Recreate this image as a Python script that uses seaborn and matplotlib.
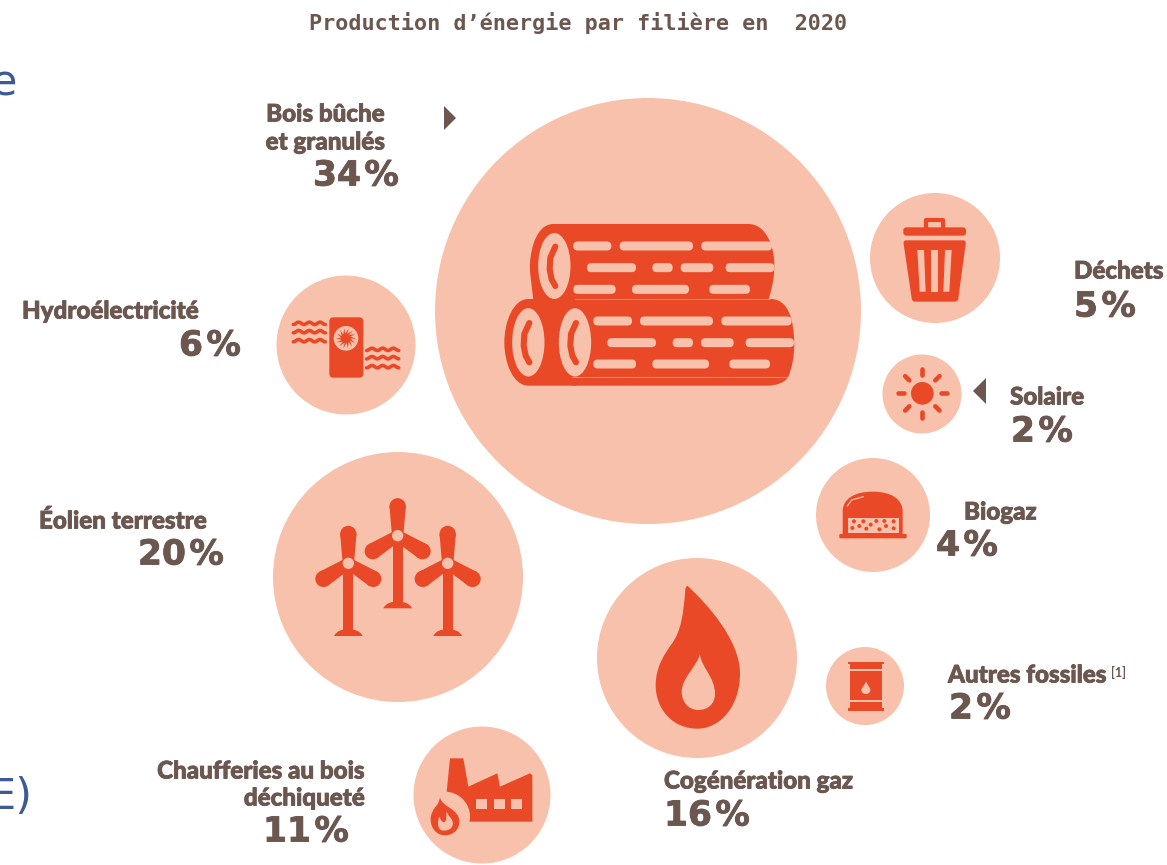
import numpy as np
import pandas as pd
import matplotlib
matplotlib.use("Agg")
import matplotlib.pyplot as plt
import matplotlib.patheffects as pe
import seaborn as sns
from matplotlib.path import Path
from matplotlib.patches import PathPatch, Circle, Ellipse, Polygon, FancyBboxPatch

# Share of production per energy source, 2020 (percent)
sources = ["Bois bûche et granulés", "Déchets", "Solaire", "Hydroélectricité", "Éolien terrestre",
           "Biogaz", "Autres fossiles", "Cogénération gaz", "Chaufferies au bois déchiqueté"]
shares = [34, 5, 2, 6, 20, 4, 2, 16, 11]

# Bubble layout on the 1167x865 canvas
bubble_x = [648, 935, 922, 346, 398, 873, 865, 697, 482]
bubble_y = [311, 258, 394, 345, 577, 515, 686, 658, 795]
bubble_d = [426, 130, 79, 139, 250, 114, 78, 200, 137]

TITLE = "Production d’énergie par filière en  2020"
BUBBLE = "#F7C1AB"
ICON = "#E94926"
TEXT = "#6B574F"
BLUE = "#3D5A94"
W, H, DPI = 1167, 865, 100

sns.set_theme(style="white")
plt.rcParams["font.family"] = ["Lato", "DejaVu Sans"]

fig = plt.figure(figsize=(W / DPI, H / DPI), dpi=DPI, facecolor="white")
ax = fig.add_axes([0, 0, 1, 1])

table = pd.DataFrame({"source": sources, "share": shares, "x": bubble_x, "y": bubble_y})
marker_areas = {n: (d * 72 / DPI) ** 2 for n, d in zip(sources, bubble_d)}
sns.scatterplot(data=table, x="x", y="y", size="source", sizes=marker_areas, color=BUBBLE,
                linewidth=0, legend=False, ax=ax, zorder=1)
ax.set_xlim(0, W)
ax.set_ylim(H, 0)
ax.axis("off")


class Icon:
    """Draws shapes from a local drawing grid three times finer than the canvas."""

    def __init__(self, ox, oy):
        self.ox, self.oy = ox, oy

    def pt(self, p):
        return (self.ox + p[0] / 3, self.oy + p[1] / 3)

    def curve(self, start, segments, color=ICON, z=3):
        verts, codes = [self.pt(start)], [Path.MOVETO]
        for seg in segments:
            if len(seg) == 1:
                verts.append(self.pt(seg[0]))
                codes.append(Path.LINETO)
            else:
                verts.extend(self.pt(s) for s in seg)
                codes.extend([Path.CURVE4] * 3)
        verts.append(verts[0])
        codes.append(Path.CLOSEPOLY)
        ax.add_patch(PathPatch(Path(verts, codes), fc=color, ec="none", zorder=z))

    def poly(self, pts, color=ICON, z=3):
        ax.add_patch(Polygon([self.pt(p) for p in pts], closed=True, fc=color, ec="none", zorder=z))

    def box(self, x0, y0, x1, y1, color=ICON, z=3, r=0):
        a, b = self.pt((x0, y0)), self.pt((x1, y1))
        ax.add_patch(FancyBboxPatch((a[0] + r, a[1] + r), b[0] - a[0] - 2 * r, b[1] - a[1] - 2 * r,
                                    boxstyle=f"round,pad={r},rounding_size={r}" if r else "square,pad=0",
                                    fc=color, ec="none", zorder=z))

    def circle(self, c, r, color=ICON, z=3):
        ax.add_patch(Circle(self.pt(c), r / 3, fc=color, ec="none", zorder=z))

    def ellipse(self, c, w, h, color=BUBBLE, z=4):
        ax.add_patch(Ellipse(self.pt(c), w / 3, h / 3, fc=color, ec="none", zorder=z))

    def line(self, pts, lw, color=ICON, z=3, cap="round"):
        xy = np.array([self.pt(p) for p in pts])
        ax.plot(xy[:, 0], xy[:, 1], color=color, lw=lw, solid_capstyle=cap, zorder=z,
                solid_joinstyle="round")


# Stacked logs
logs = Icon(490, 200)
logs.curve((190, 72), [[(775, 72)], [(810, 72), (830, 100), (842, 130)], [(860, 180), (855, 240), (835, 300)],
                       [(130, 300)], [(125, 250), (115, 210), (122, 170)], [(130, 110), (155, 72), (190, 72)]])
logs.curve((115, 297), [[(260, 297)], [(260, 557)], [(115, 557)], [(70, 557), (43, 490), (43, 427)],
                        [(43, 365), (70, 297), (115, 297)]])
logs.curve((255, 297), [[(845, 297)], [(880, 300), (895, 325), (905, 360)], [(918, 420), (915, 480), (895, 530)],
                        [(885, 548), (860, 557), (830, 557)], [(255, 557)], [(210, 557), (183, 490), (183, 427)],
                        [(183, 365), (210, 297), (255, 297)]], z=3.1)
logs.line([(255, 298), (840, 298)], 0.7, color="#F28D6B", z=3.2)
logs.line([(245, 532), (890, 532)], 0.7, color="#F28D6B", z=3.2)


def slot(x0, x1, y, h=27):
    logs.box(x0, y - h / 2, x1, y + h / 2, color=BUBBLE, z=3.6, r=h / 6 - 0.2)


for x0, x1 in [(250, 364), (389, 609), (634, 846)]:
    slot(x0, x1, 138)
for x0, x1 in [(291, 438), (487, 548), (572, 670), (707, 853)]:
    slot(x0, x1, 203)
for x0, x1 in [(250, 377), (426, 597), (658, 780)]:
    slot(x0, x1, 268)
for x0, x1 in [(310, 426), (450, 669), (694, 905)]:
    slot(x0, x1, 363)
for x0, x1 in [(352, 498), (548, 609), (633, 731), (767, 912)]:
    slot(x0, x1, 428)
for x0, x1 in [(310, 438), (487, 657), (718, 840)]:
    slot(x0, x1, 492)
# End faces of the three logs, each with its crescent-shaped crack
logs.ellipse((193, 198), 97, 198)
logs.ellipse((115, 427), 97, 205)
logs.ellipse((255, 427), 97, 205)
for cx, cy in [(193, 198), (115, 427), (255, 427)]:
    logs.line([(cx + 3, cy - 58), (cx - 12, cy - 25), (cx - 14, cy + 10), (cx - 8, cy + 40), (cx + 3, cy + 60)],
              4.4, z=5)

# Waste bin
bin_icon = Icon(860, 180)
bin_icon.line([(198, 143), (198, 120), (250, 120), (250, 143)], 3.0)
bin_icon.box(130, 142, 318, 167, r=3)
bin_icon.curve((138, 181), [[(310, 181)], [(316, 181), (318, 186), (317, 192)], [(295, 355)],
                            [(294, 362), (290, 365), (285, 365)], [(165, 365)], [(160, 365), (156, 362), (155, 355)],
                            [(131, 192)], [(130, 186), (132, 181), (138, 181)]])
for xs in [((172, 192), (179, 197)), ((214, 234), (214, 234)), ((255, 275), (250, 268))]:
    (a, b), (c, d) = xs
    bin_icon.poly([(a, 210), (b, 210), (d, 335), (c, 335)], color=BUBBLE, z=4)

# Sun
sun = Icon(860, 180)
sun.circle((187, 640), 34)
for k in range(8):
    angle = k * np.pi / 4
    ux, uy = np.cos(angle), np.sin(angle)
    sun.line([(187 + 55 * ux, 640 + 55 * uy), (187 + 73 * ux, 640 + 73 * uy)], 3.3)

# Water-source heat pump
pump = Icon(270, 270)
pump.box(178, 142, 280, 323, r=4)
pump.circle((228, 205), 37, color=BUBBLE, z=4)
pump.circle((228, 205), 14, z=5)
for k in range(14):
    t = k * 2 * np.pi / 14
    pump.poly([(228 + 10 * np.cos(t - 0.5), 205 + 10 * np.sin(t - 0.5)),
               (228 + 10 * np.cos(t + 0.5), 205 + 10 * np.sin(t + 0.5)),
               (228 + 31 * np.cos(t + 0.5), 205 + 31 * np.sin(t + 0.5))], z=5)
for x0, ys in [(70, (160, 185, 212)), (290, (238, 263, 290))]:
    for y in ys:
        t = np.linspace(0, 3, 40)
        pump.line(list(zip(x0 + t * 32, y - 3.5 * np.sin(2 * np.pi * (t - 0.25)))), 2.6)

# Wind turbines
wind = Icon(290, 480)


def blade(hub, deg):
    a = np.radians(deg)
    u = np.array([np.cos(a), np.sin(a)])
    n = np.array([-u[1], u[0]])
    h = np.array(hub, dtype=float)
    tip = h + 88 * u
    wind.poly([tuple(h + 17 * n), tuple(tip + 24.5 * n), tuple(tip - 24.5 * n), tuple(h - 17 * n)])
    wind.circle(tuple(tip), 24.5)


for hub, foot in [((175, 250), 448), ((323, 167), 365), ((473, 250), 448)]:
    wind.box(hub[0] - 15, hub[1], hub[0] + 15, foot + 6)
    wind.curve((hub[0] - 43, foot + 20), [[(hub[0] - 35, foot + 4), (hub[0] - 20, foot), (hub[0], foot)],
                                          [(hub[0] + 20, foot), (hub[0] + 35, foot + 4), (hub[0] + 43, foot + 20)]])
    for deg in (-90, 148, 32):
        blade(hub, deg)
    wind.circle(hub, 17, color=BUBBLE, z=4)

# Biogas digester
gas = Icon(800, 450)
gas.curve((128, 185), [[(128, 145), (165, 125), (218, 125)], [(270, 125), (308, 145), (308, 185)],
                       [(308, 255)], [(128, 255)]])
gas.box(118, 252, 320, 265, r=1)
gas.box(145, 203, 297, 248, color=BUBBLE, z=4)
gas.line([(142, 168), (155, 150), (190, 140)], 0.9, color=BUBBLE, z=4)
dot_x = [162, 190, 229, 253, 281, 157, 178, 199, 212, 238, 258, 281]
dot_y = [214, 214, 213, 213, 214, 234, 228, 236, 224, 238, 228, 235]
for dx, dy in zip(dot_x, dot_y):
    gas.circle((dx, dy), 6, z=5)

# Oil drum
drum = Icon(800, 450)
drum.box(145, 635, 252, 642)
drum.box(150, 642, 247, 656)
drum.box(150, 662, 247, 750)
drum.box(150, 756, 247, 774)
drum.box(145, 774, 252, 782)
drum.curve((198, 695), [[(205, 708), (211, 715), (211, 720)], [(211, 727), (205, 732), (198, 732)],
                        [(190, 732), (184, 727), (184, 720)], [(184, 714), (192, 708), (198, 695)]], color=BUBBLE, z=4)

# Gas flame
flame = Icon(640, 570)
flame.curve((143, 48), [[(200, 100), (300, 210), (300, 310)], [(300, 410), (240, 476), (172, 476)],
                        [(100, 476), (47, 420), (47, 345)], [(47, 290), (75, 250), (95, 222)],
                        [(125, 180), (130, 130), (136, 60)], [(136, 52), (140, 47), (143, 48)]])
flame.curve((180, 252), [[(182, 290), (225, 320), (225, 372)], [(225, 400), (205, 420), (175, 420)],
                         [(145, 420), (125, 395), (125, 365)], [(125, 325), (170, 290), (180, 252)]],
            color=BUBBLE, z=4)

# Wood-chip boiler plant
plant = Icon(400, 720)
plant.poly([(150, 115), (190, 115), (205, 200), (292, 160), (300, 200), (390, 160), (397, 165), (397, 305),
            (140, 305), (140, 215)])
plant.circle((135, 290), 75, color=BUBBLE, z=3.5)
for wx in (228, 281, 333):
    plant.box(wx, 237, wx + 33, 267, color=BUBBLE, z=4)
plant.curve((120, 232), [[(125, 262), (178, 265), (178, 305)], [(178, 330), (158, 346), (135, 346)],
                         [(110, 346), (92, 325), (92, 298)], [(92, 280), (100, 270), (105, 262)],
                         [(110, 258), (118, 245), (120, 232)]], z=5)
plant.curve((140, 272), [[(142, 290), (162, 295), (158, 315)], [(155, 330), (135, 335), (122, 330)],
                         [(112, 322), (112, 305), (118, 290)], [(124, 305), (130, 310), (135, 305)],
                         [(142, 295), (138, 282), (140, 272)]], color=BUBBLE, z=6)

# Direction arrowheads next to two of the labels
ax.add_patch(Polygon([(444, 106), (456, 118), (444, 130)], closed=True, fc=TEXT, ec="none", zorder=3))
ax.add_patch(Polygon([(986, 378), (973, 391), (986, 404)], closed=True, fc=TEXT, ec="none", zorder=3))

thicken = [pe.withStroke(linewidth=0.6, foreground=TEXT)]


def name_label(x, y, s, ha="left", size=17.4):
    ax.text(x, y + 1, s, ha=ha, va="center", color=TEXT, fontsize=size, fontweight=900,
            family="Lato", zorder=6, path_effects=thicken)


def share_label(x, y, value):
    ax.text(x, y + 2, f"{value}\u200a%", ha="left", va="center", color=TEXT, fontsize=24.8,
            fontweight="bold", family="DejaVu Sans", zorder=6, path_effects=thicken)


name_label(385, 113, "Bois bûche", "right")
name_label(385, 141, "et granulés", "right")
share_label(313, 174, shares[0])
name_label(1074, 270, "Déchets")
share_label(1074, 305, shares[1])
name_label(1010, 396, "Solaire")
share_label(1011, 430, shares[2])
name_label(22, 310, "Hydroélectricité")
share_label(179, 344, shares[3])
name_label(39, 520, "Éolien terrestre")
share_label(138, 553, shares[4])
name_label(964, 511, "Biogaz")
share_label(936, 544, shares[5])
name_label(948, 674, "Autres fossiles")
ax.text(1111, 672, "[1]", ha="left", va="center", color=TEXT, fontsize=9, fontweight="bold",
        family="Lato", zorder=6)
share_label(949, 707, shares[6])
name_label(664, 780, "Cogénération gaz")
share_label(664, 814, shares[7])
name_label(365, 770, "Chaufferies au bois", "right")
name_label(365, 797, "déchiqueté", "right")
share_label(263, 830, shares[8])

ax.text(578, 23, TITLE, ha="center", va="center", color=TEXT, fontsize=15.7, fontweight="bold",
        family="DejaVu Sans Mono", zorder=6)

# Fragments of the neighbouring slide heading, cut by the canvas edge
ax.text(-9, 84, "e", ha="left", va="center", color=BLUE, fontsize=31, family="DejaVu Sans", zorder=6)
ax.text(-11, 797, "E)", ha="left", va="center", color=BLUE, fontsize=31, family="DejaVu Sans", zorder=6)

fig.savefig("out.png", dpi=DPI, facecolor="white")
